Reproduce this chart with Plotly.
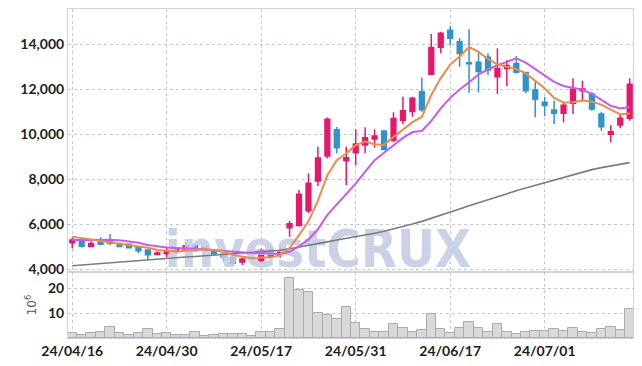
import plotly.graph_objects as go
from plotly.subplots import make_subplots

dates = [
    "24/04/16", "24/04/17", "24/04/18", "24/04/19", "24/04/22", "24/04/23", "24/04/24", "24/04/25", "24/04/26", "24/04/29",
    "24/04/30", "24/05/02", "24/05/03", "24/05/07", "24/05/08", "24/05/09", "24/05/10", "24/05/13", "24/05/14", "24/05/16",
    "24/05/17", "24/05/20", "24/05/21", "24/05/22", "24/05/23", "24/05/24", "24/05/27", "24/05/28", "24/05/29", "24/05/30",
    "24/05/31", "24/06/03", "24/06/04", "24/06/05", "24/06/07", "24/06/10", "24/06/11", "24/06/12", "24/06/13", "24/06/14",
    "24/06/17", "24/06/18", "24/06/19", "24/06/20", "24/06/21", "24/06/24", "24/06/25", "24/06/26", "24/06/27", "24/06/28",
    "24/07/01", "24/07/02", "24/07/03", "24/07/04", "24/07/05", "24/07/08", "24/07/09", "24/07/10", "24/07/11", "24/07/12",
]

open_ = [5180, 5260, 5010, 5220, 5225, 5150, 5110, 5000, 4860, 4660,
         4690, 4790, 4880, 5060, 4980, 4860, 4710, 4530, 4330, 4520,
         4380, 4860, 4690, 5850, 5950, 6600, 7930, 9040, 10200, 8830,
         9180, 9530, 9790, 10150, 9740, 10610, 11010, 11890, 12670, 13870,
         14630, 14110, 13185, 13200, 13420, 12560, 12920, 13150, 12750, 11970,
         11430, 11080, 10940, 11380, 11940, 11790, 10900, 10000, 10410, 10710]
high = [5420, 5280, 5250, 5420, 5570, 5180, 5140, 5020, 4870, 4800,
        5000, 4990, 5140, 5110, 5000, 4880, 4730, 4560, 4530, 4560,
        4930, 5040, 5000, 6150, 7520, 8260, 9450, 10750, 10320, 9450,
        10220, 10310, 10220, 10180, 10980, 11670, 11670, 12530, 14460, 14560,
        14810, 14270, 14670, 13600, 13600, 13830, 13300, 13480, 12780, 12340,
        11670, 11500, 11450, 12490, 12380, 11870, 11000, 10400, 10900, 12490]
low = [4930, 4970, 5000, 5080, 5070, 4980, 4930, 4710, 4420, 4620,
       4540, 4690, 4870, 4800, 4830, 4670, 4380, 4230, 4190, 4450,
       4270, 4530, 4530, 5450, 5900, 6500, 7700, 8930, 9160, 7750,
       8640, 9160, 9400, 9300, 9650, 10450, 10780, 11000, 12620, 13600,
       13970, 13000, 11850, 11870, 12640, 11790, 12150, 12700, 11820, 10760,
       10810, 10460, 10520, 10900, 11530, 11050, 10160, 9650, 10270, 10600]
close = [5300, 5030, 5150, 5110, 5160, 5010, 4960, 4830, 4650, 4730,
         4820, 4880, 5050, 4830, 4860, 4690, 4540, 4270, 4460, 4480,
         4850, 4560, 4760, 6030, 7340, 7830, 8950, 10670, 9400, 8960,
         9570, 9850, 9920, 9320, 10700, 11050, 11600, 11090, 13860, 14490,
         14270, 13600, 13140, 12790, 12860, 12930, 13060, 12760, 11940, 11560,
         11280, 10940, 11290, 12000, 12010, 11130, 10340, 10110, 10710, 12230]

ma_short = [5450, 5400, 5330, 5260, 5200, 5150, 5100, 5040, 4960, 4860,
            4810, 4790, 4830, 4865, 4890, 4860, 4790, 4640, 4565, 4490,
            4520, 4530, 4630, 4940, 5520, 6130, 7050, 8180, 8850, 9150,
            9515, 9680, 9560, 9530, 9880, 10190, 10540, 10770, 11750, 12500,
            13100, 13460, 13880, 13660, 13350, 13100, 13000, 12900, 12710, 12400,
            12050, 11620, 11410, 11430, 11500, 11450, 11320, 11100, 10890, 10930]
ma_mid = [5300, 5310, 5320, 5320, 5310, 5290, 5250, 5180, 5080, 5010,
          4970, 4950, 4940, 4910, 4880, 4850, 4810, 4760, 4740, 4720,
          4720, 4700, 4680, 4780, 5020, 5330, 5780, 6420, 6900, 7340,
          7810, 8340, 8850, 9180, 9520, 9840, 10100, 10150, 10600, 11150,
          11620, 11990, 12310, 12660, 12880, 13070, 13220, 13380, 13190, 12890,
          12590, 12330, 12150, 12070, 11980, 11800, 11530, 11270, 11150, 11210]
ma_long = [4160, 4195, 4230, 4265, 4300, 4335, 4370, 4400, 4430, 4460,
           4490, 4520, 4545, 4570, 4600, 4630, 4655, 4680, 4705, 4730,
           4760, 4800, 4850, 4910, 4980, 5070, 5140, 5220, 5300, 5370,
           5440, 5520, 5600, 5690, 5790, 5900, 6010, 6130, 6260, 6400,
           6540, 6680, 6820, 6960, 7100, 7230, 7360, 7490, 7610, 7730,
           7850, 7970, 8090, 8210, 8330, 8430, 8520, 8600, 8670, 8740]

volume_m = [2.2, 1.3, 2.0, 2.4, 4.6, 2.0, 1.1, 2.0, 3.5, 1.6,
            2.0, 1.4, 1.4, 2.4, 0.7, 1.4, 1.6, 1.6, 1.6, 0.8,
            2.5, 2.5, 3.5, 23.9, 19.3, 18.3, 10.0, 9.3, 7.5, 12.3,
            5.9, 3.5, 2.3, 2.3, 5.6, 3.9, 2.5, 3.3, 9.6, 3.6,
            2.0, 4.0, 6.6, 4.0, 2.6, 5.6, 2.3, 1.6, 2.3, 2.9,
            2.9, 3.6, 2.9, 4.0, 2.3, 2.0, 3.6, 4.4, 3.3, 11.8]

tick_every = 10
price_ticks = [4000, 6000, 8000, 10000, 12000, 14000]
vol_ticks = [10, 20]
watermark = "investCRUX"

idx = list(range(len(dates)))
tick_idx = idx[0::tick_every]
tick_text = [dates[i] for i in tick_idx]

UP = "#e5196b"
DOWN = "#2f94c8"
GRID = "rgba(175,178,205,0.75)"
FRAME = "#d2d2d8"
TICKFONT = dict(family="Lato, Roboto, sans-serif", size=14, color="#1e1e1e", weight="bold")

fig = make_subplots(rows=2, cols=1, shared_xaxes=True, vertical_spacing=0,
                    row_heights=[0.7994, 0.2006])

# watermark (drawn first so that it stays behind the marks)
fig.add_trace(go.Scatter(x=[26], y=[4680], mode="text", text=[watermark],
                         textposition="middle center", cliponaxis=False,
                         textfont=dict(family="DejaVu Sans Condensed, sans-serif",
                                       size=52, color="rgba(194,202,226,0.85)", weight="bold"),
                         hoverinfo="skip", showlegend=False), row=1, col=1)

fig.add_trace(go.Scatter(x=idx, y=ma_long, mode="lines",
                         line=dict(color="#7c7c7c", width=1.6), showlegend=False), row=1, col=1)
fig.add_trace(go.Scatter(x=idx, y=ma_mid, mode="lines",
                         line=dict(color="#c65ce8", width=2), showlegend=False), row=1, col=1)
fig.add_trace(go.Scatter(x=idx, y=ma_short, mode="lines",
                         line=dict(color="#ef8a4c", width=2), showlegend=False), row=1, col=1)

fig.add_trace(go.Candlestick(x=idx, open=open_, high=high, low=low, close=close,
                             increasing=dict(line=dict(color=UP, width=1.5), fillcolor=UP),
                             decreasing=dict(line=dict(color=DOWN, width=1.5), fillcolor=DOWN),
                             showlegend=False), row=1, col=1)

fig.add_trace(go.Bar(x=idx, y=volume_m,
                     marker=dict(color="#d9d9d9", line=dict(color="#ababab", width=1)),
                     showlegend=False), row=2, col=1)

# the page body adds an 8px offset; margins compensate for it
fig.update_layout(
    width=642, height=366,
    margin=dict(l=60, r=17, t=1, b=36, autoexpand=False),
    paper_bgcolor="white", plot_bgcolor="white",
    bargap=0, boxgap=0.28,
    showlegend=False,
)

xcommon = dict(type="linear", range=[-0.45, 59.35], showgrid=True, gridcolor=GRID,
               griddash="dot", gridwidth=1, tickmode="array", tickvals=tick_idx, ticktext=tick_text,
               showline=True, linecolor=FRAME, linewidth=1, mirror=True, ticks="",
               tickfont=TICKFONT, zeroline=False, automargin=False)
fig.update_xaxes(**xcommon)
fig.update_xaxes(rangeslider_visible=False, showticklabels=False, row=1, col=1)
fig.update_xaxes(showticklabels=True, row=2, col=1)

fig.update_yaxes(range=[3880, 15570], tickvals=price_ticks, tickformat=",d",
                 showgrid=True, gridcolor=GRID, griddash="dot", gridwidth=1,
                 showline=True, linecolor=FRAME, linewidth=1, mirror=True, automargin=False,
                 ticks="", tickfont=TICKFONT, zeroline=False, row=1, col=1)
fig.update_yaxes(range=[0, 26.5], tickvals=vol_ticks,
                 showgrid=True, gridcolor=GRID, griddash="dot", gridwidth=1,
                 showline=True, linecolor=FRAME, linewidth=1, mirror=True, automargin=False,
                 ticks="", tickfont=TICKFONT, zeroline=False,
                 title=dict(text="10<sup>6</sup>", standoff=8,
                            font=dict(family="DejaVu Sans", size=12, color="#555555")),
                 row=2, col=1)

fig.write_html("out.html")
